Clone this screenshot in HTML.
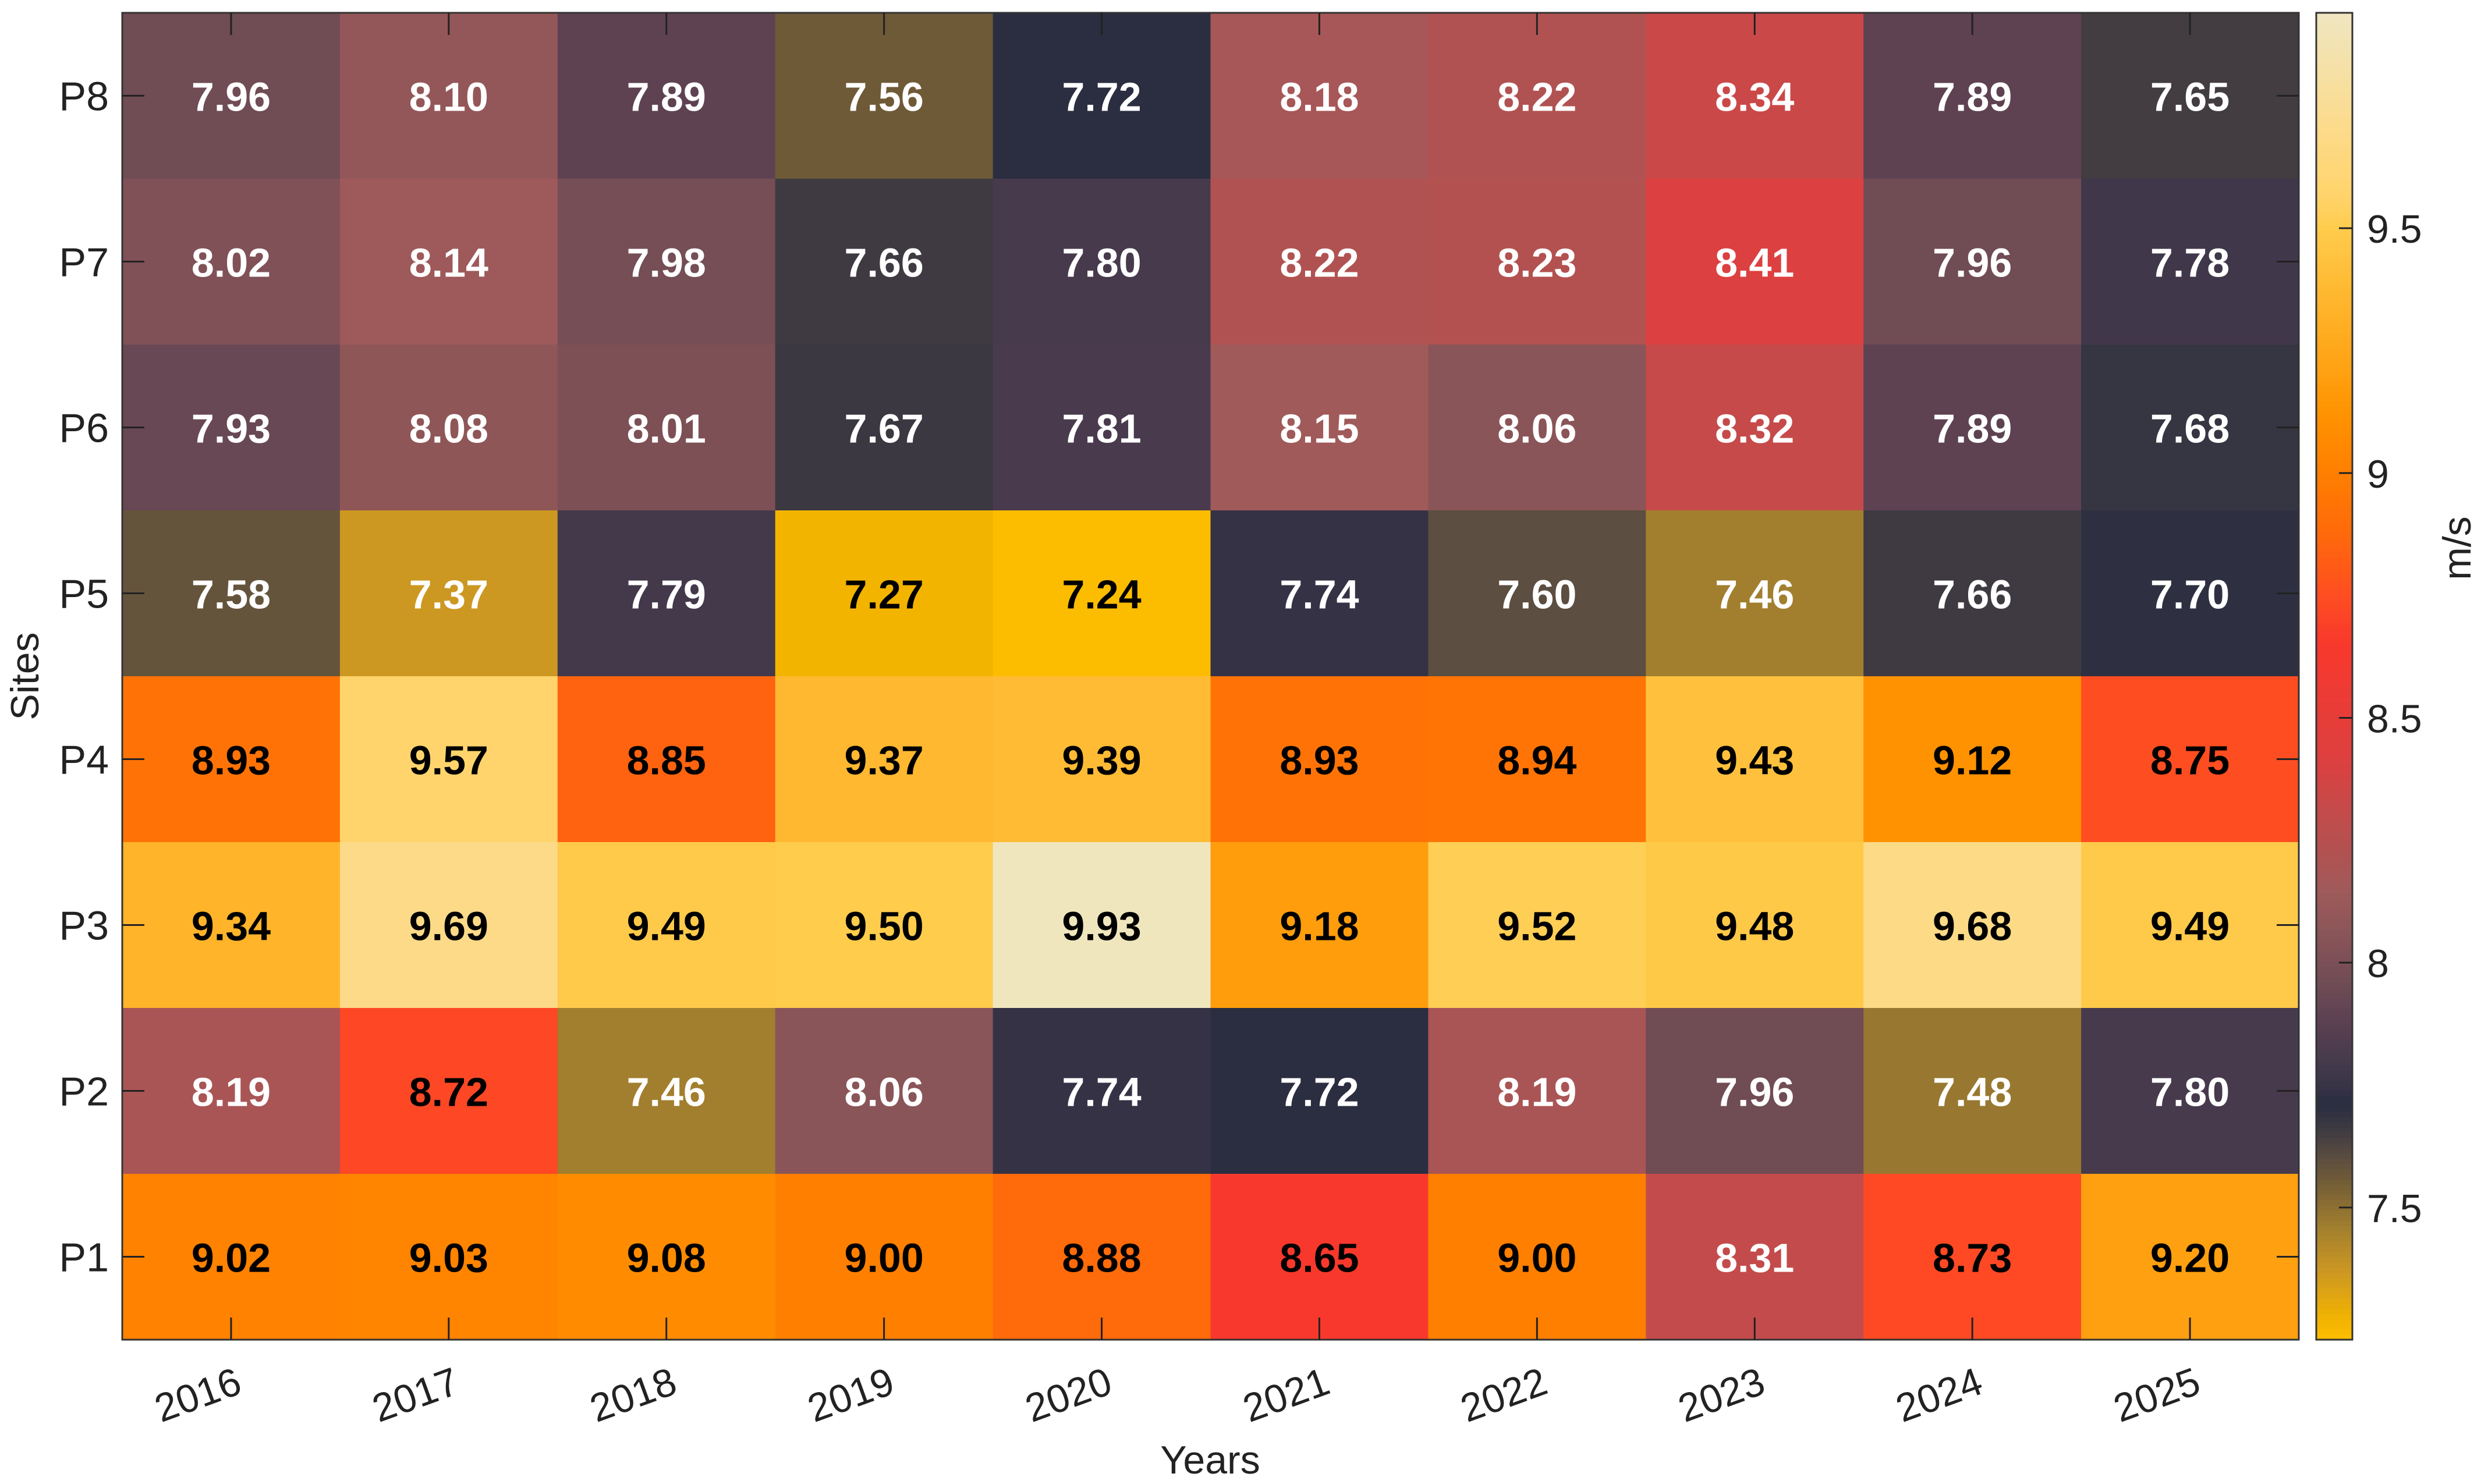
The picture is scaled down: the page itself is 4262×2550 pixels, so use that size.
<!DOCTYPE html>
<html><head><meta charset="utf-8"><style>
html,body{margin:0;padding:0;background:#fff;}
svg{display:block;font-family:"Liberation Sans",Arial,sans-serif;}
</style></head><body>
<svg id="chart" width="4262" height="2550" viewBox="0 0 4262 2550" xmlns="http://www.w3.org/2000/svg">
<g id="cells"></g>
<g id="labels"></g>
<g id="axes"></g>
<g id="cbar"></g>
<text x="2079" y="2532" font-size="68" text-anchor="middle" fill="#222">Years</text>
<text transform="translate(66,1162) rotate(-90)" font-size="68" text-anchor="middle" fill="#222">Sites</text>
<text transform="translate(4244,942) rotate(-90)" font-size="68" text-anchor="middle" fill="#222">m/s</text>
</svg>
<script>
const years = ["2016","2017","2018","2019","2020","2021","2022","2023","2024","2025"];
const sites = ["P8","P7","P6","P5","P4","P3","P2","P1"];
const rowP8 = [7.96,8.10,7.89,7.56,7.72,8.18,8.22,8.34,7.89,7.65];
const rowP7 = [8.02,8.14,7.98,7.66,7.80,8.22,8.23,8.41,7.96,7.78];
const rowP6 = [7.93,8.08,8.01,7.67,7.81,8.15,8.06,8.32,7.89,7.68];
const rowP5 = [7.58,7.37,7.79,7.27,7.24,7.74,7.60,7.46,7.66,7.70];
const rowP4 = [8.93,9.57,8.85,9.37,9.39,8.93,8.94,9.43,9.12,8.75];
const rowP3 = [9.34,9.69,9.49,9.50,9.93,9.18,9.52,9.48,9.68,9.49];
const rowP2 = [8.19,8.72,7.46,8.06,7.74,7.72,8.19,7.96,7.48,7.80];
const rowP1 = [9.02,9.03,9.08,9.00,8.88,8.65,9.00,8.31,8.73,9.20];
const cbarTicks = [7.5,8,8.5,9,9.5];
const cbarTickLabels = ["7.5","8","8.5","9","9.5"];
const cmin = 7.23, cmax = 9.94;

const rows = [rowP8,rowP7,rowP6,rowP5,rowP4,rowP3,rowP2,rowP1];
const stops = [
[7.23,"#FFBE00"],[7.27,"#F3B400"],[7.37,"#CC9822"],[7.46,"#A27F2E"],[7.56,"#6F5A38"],
[7.60,"#5C4E40"],[7.65,"#433D42"],[7.70,"#2E3042"],[7.72,"#2B2D40"],[7.74,"#363246"],
[7.80,"#463A4C"],[7.89,"#5E4252"],[7.96,"#704C55"],[8.06,"#8A5558"],[8.15,"#A05A5A"],
[8.22,"#B15252"],[8.32,"#C64A4A"],[8.41,"#DC4040"],[8.65,"#F8382C"],[8.75,"#FF4D22"],
[8.88,"#FF6A0A"],[9.00,"#FF7F00"],[9.12,"#FF9200"],[9.20,"#FFA010"],[9.37,"#FFB830"],
[9.50,"#FFCC4C"],[9.57,"#FFD46C"],[9.69,"#FDDA88"],[9.94,"#EFE6C0"]];
function hex(c){return [1,3,5].map(i=>parseInt(c.substr(i,2),16));}
function cmap(v){
  if(v<=stops[0][0]) return stops[0][1];
  for(let i=1;i<stops.length;i++){
    if(v<=stops[i][0]){
      const t=(v-stops[i-1][0])/(stops[i][0]-stops[i-1][0]);
      const a=hex(stops[i-1][1]),b=hex(stops[i][1]);
      return "rgb("+a.map((x,k)=>Math.round(x+(b[k]-x)*t)).join(",")+")";
    }
  }
  return stops[stops.length-1][1];
}
const NS="http://www.w3.org/2000/svg";
const L=210,R=3949,T=22,B=2302;
const cw=(R-L)/years.length, ch=(B-T)/sites.length;
const xAt=i=>L+i*cw, yAt=j=>T+j*ch;
function mk(tag,attrs,parent){const e=document.createElementNS(NS,tag);for(const k in attrs)e.setAttribute(k,attrs[k]);parent.appendChild(e);return e;}
const gc=document.getElementById("cells"),gl=document.getElementById("labels"),ga=document.getElementById("axes"),gb=document.getElementById("cbar");
rows.forEach((row,j)=>{
  row.forEach((v,i)=>{
    const r=mk("rect",{x:xAt(i),y:yAt(j),width:cw+0.5,height:ch+0.5,fill:cmap(v)},gc);
    
    
    const white = v>7.3 && v<8.5;
    const t=mk("text",{x:xAt(i)+cw/2,y:yAt(j)+ch/2+26,"text-anchor":"middle","font-size":70,"font-weight":"bold",fill:white?"#fff":"#000"},gl);
    t.textContent=v.toFixed(2);
    
    
  });
});
const fr=mk("rect",{x:L,y:T,width:R-L,height:B-T,fill:"none",stroke:"#333","stroke-width":3},ga);


years.forEach((y,i)=>{
  const x=xAt(i)+cw/2;
  mk("line",{x1:x,y1:B,x2:x,y2:B-38,stroke:"#222","stroke-width":3},ga);
  mk("line",{x1:x,y1:T,x2:x,y2:T+38,stroke:"#222","stroke-width":3},ga);
  const t=mk("text",{transform:"translate("+(x-57)+",2397) rotate(-20)","text-anchor":"middle","font-size":68,fill:"#222","dominant-baseline":"central"},ga);
  t.textContent=y;
  
  
});
sites.forEach((s,j)=>{
  const y=yAt(j)+ch/2;
  mk("line",{x1:L,y1:y,x2:L+38,y2:y,stroke:"#222","stroke-width":3},ga);
  mk("line",{x1:R,y1:y,x2:R-38,y2:y,stroke:"#222","stroke-width":3},ga);
  const t=mk("text",{x:187,y:y+25,"text-anchor":"end","font-size":70,fill:"#222"},ga);
  t.textContent=s;
  
  
});
const CL=3979,CR=4041;
const cy=v=>B-(v-cmin)/(cmax-cmin)*(B-T);
const n=256;
for(let k=0;k<n;k++){
  const v0=cmin+(cmax-cmin)*k/n, v1=cmin+(cmax-cmin)*(k+1)/n;
  const r=mk("rect",{x:CL,y:cy(v1),width:CR-CL,height:cy(v0)-cy(v1)+0.8,fill:cmap((v0+v1)/2)},gb);
  
  
}
mk("rect",{x:CL,y:T,width:CR-CL,height:B-T,fill:"none",stroke:"#333","stroke-width":3},gb);
cbarTicks.forEach((v,k)=>{
  const y=cy(v);
  mk("line",{x1:CR,y1:y,x2:CR-23,y2:y,stroke:"#222","stroke-width":3},gb);
  const t=mk("text",{x:4066,y:y+25,"font-size":68,fill:"#222"},gb);
  t.textContent=cbarTickLabels[k];
  
  
});
</script>
</body></html>
